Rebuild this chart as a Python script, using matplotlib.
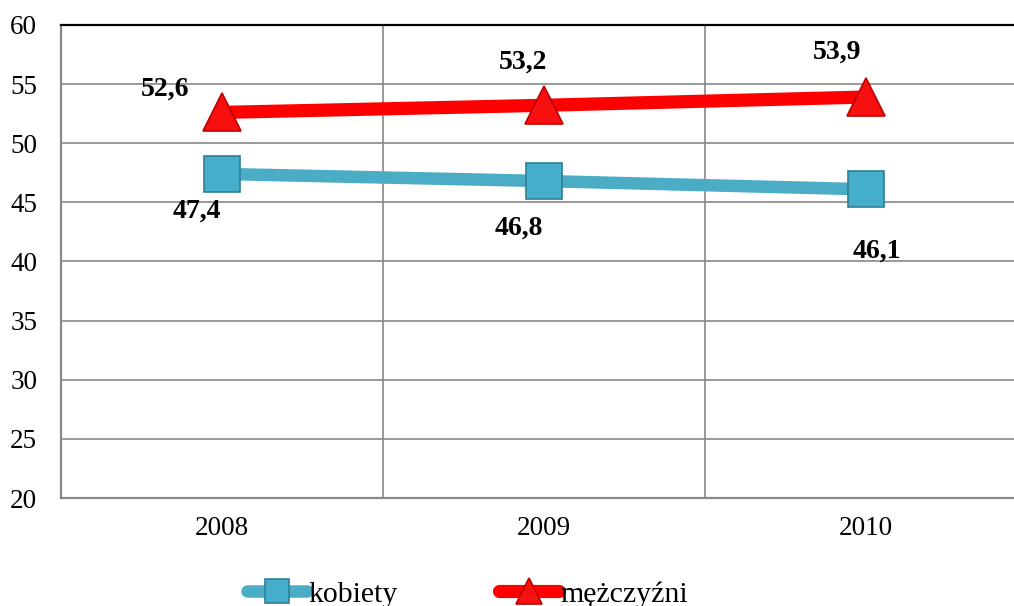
import numpy as np
import matplotlib
matplotlib.use('Agg')
from matplotlib import pyplot as plt

years = ['2008', '2009', '2010']
kobiety = [47.4, 46.8, 46.1]
mezczyzni = [52.6, 53.2, 53.9]
kobiety_labels = ['47,4', '46,8', '46,1']
mezczyzni_labels = ['52,6', '53,2', '53,9']

plt.rcParams['font.family'] = ['Liberation Serif', 'DejaVu Serif']

fig = plt.figure(figsize=(10.14, 6.06), dpi=100)
ax = fig.add_axes([0.060, 0.178, 0.940, 0.781])

x = np.arange(len(years))

# series
ax.plot(x, kobiety, color='#4BACC6', lw=9, marker='s', ms=26.5,
        mfc='#45AFCB', mec='#2F7F96', mew=1.2, solid_capstyle='round',
        label='kobiety', zorder=3)
ax.plot(x, mezczyzni, color='#FF0000', lw=9.5, marker='^', ms=28,
        mfc='#F81010', mec='#C00000', mew=1.2, solid_capstyle='round',
        label='mężczyźni', zorder=3)

# data labels (offsets in pixels)
k_off = [(-25, -37), (-25, -47), (11, -62)]
m_off = [(-57, 23), (-21, 43), (-29, 45)]
for i in range(len(years)):
    ax.annotate(kobiety_labels[i], (x[i], kobiety[i]), xytext=k_off[i],
                textcoords='offset pixels', ha='center', va='center',
                fontsize=20, fontweight='bold')
    ax.annotate(mezczyzni_labels[i], (x[i], mezczyzni[i]), xytext=m_off[i],
                textcoords='offset pixels', ha='center', va='center',
                fontsize=20, fontweight='bold')

ax.set_ylim(20, 60)
ax.set_yticks(np.arange(20, 61, 5))
ax.set_xlim(-0.5, 2.46)
ax.set_xticks(x)
ax.set_xticklabels(years)
ax.set_xticks([0.5, 1.5], minor=True)

ax.grid(axis='y', which='major', color='#878787', lw=1.2)
ax.grid(axis='x', which='minor', color='#878787', lw=1.2)
ax.grid(axis='x', which='major', visible=False)
ax.set_axisbelow(True)

ax.tick_params(axis='both', which='both', length=0, labelsize=19.5)
ax.tick_params(axis='y', pad=17)
ax.tick_params(axis='x', pad=13)

ax.spines['right'].set_visible(False)
ax.spines['top'].set_color('black')
ax.spines['top'].set_linewidth(1.6)
ax.spines['left'].set_color('#878787')
ax.spines['left'].set_linewidth(1.6)
ax.spines['bottom'].set_color('#878787')
ax.spines['bottom'].set_linewidth(1.6)

leg = fig.legend(loc='center', bbox_to_anchor=(0.461, 0.019), ncol=2,
                 frameon=False, fontsize=21.5, markerscale=0.65,
                 handlelength=2.0, handletextpad=0.05, columnspacing=3.4)

fig.savefig('out.png', dpi=100)
